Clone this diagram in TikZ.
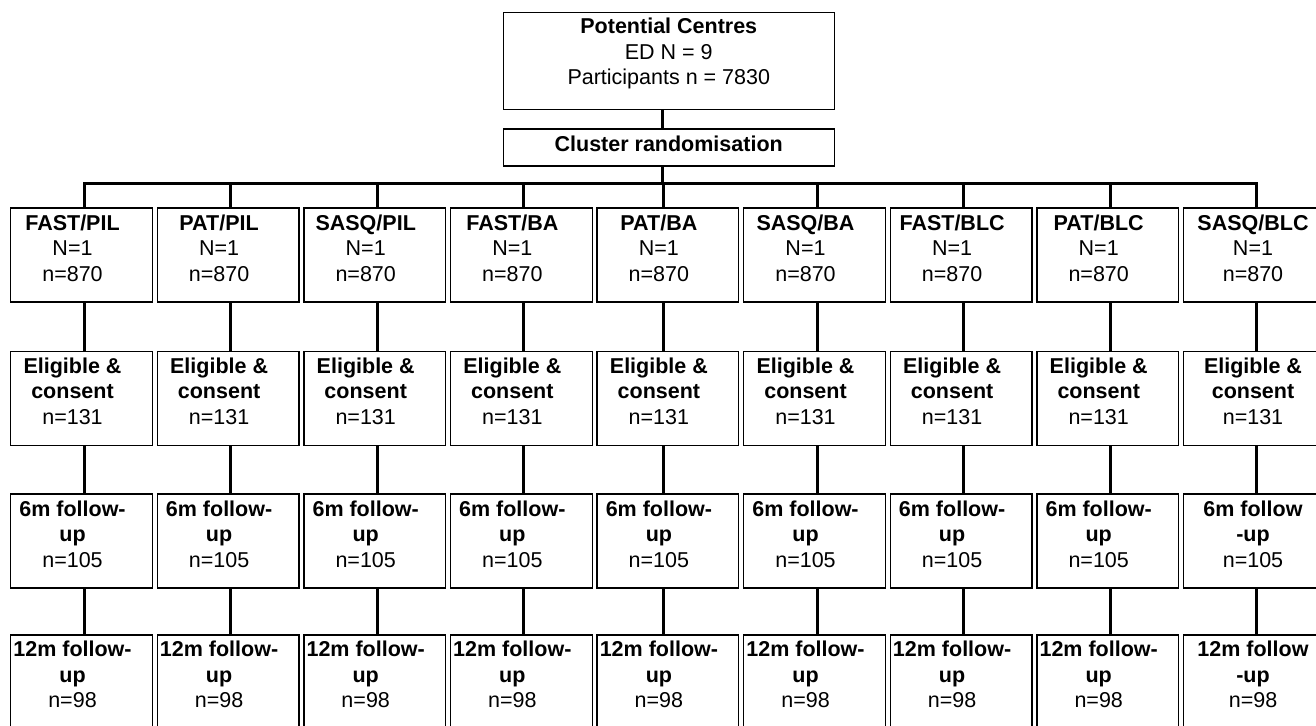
\documentclass[tikz,border=0pt]{standalone}
\usepackage{fontspec}
\setmainfont{Liberation Sans}
\usetikzlibrary{calc}
\begin{document}
\begin{tikzpicture}[x=1pt,y=-1pt,
  box/.style={draw, line width=1.3pt, minimum width=141.7pt, minimum height=94.1pt, inner sep=0pt, anchor=north west},
  txt/.style={anchor=north, inner sep=0pt, align=center, font=\fontsize{21.5}{25.5}\selectfont},
  link/.style={line width=3pt}]
\useasboundingbox (0,0) rectangle (1316,725);
% top boxes
\node[draw, line width=1.3pt, minimum width=331pt, minimum height=97pt, inner sep=0pt, anchor=north west] (top) at (502.7,11.7) {};
\node[txt] (toptxt) at (668.8,17.8) {\textbf{Potential Centres}\\ED N = 9\\Participants n = 7830};
\node[draw, line width=1.3pt, minimum width=331pt, minimum height=37.1pt, inner sep=0pt, anchor=north west] (clu) at (502.7,128.3) {};
\node[txt] (clutxt) at (668.7,135.5) {\textbf{Cluster randomisation}};
\coordinate (hc) at (662.7,183.3);
\draw[link] ([xshift=160pt]top.south west) -- ([xshift=160pt]clu.north west);
\draw[link] ([xshift=160pt]clu.south west) -- (hc);
% columns
\foreach \nm [count=\i] in {FAST/PIL,PAT/PIL,SASQ/PIL,FAST/BA,PAT/BA,SASQ/BA,FAST/BLC,PAT/BLC,SASQ/BLC}{
  \pgfmathsetmacro\L{10+146.6*(\i-1)}
  \pgfmathsetmacro\T{\i==9 ? 1253 : \L+62.5}
  \pgfmathsetmacro\C{\i==5 ? 663.3 : \L+74}
  \pgfmathsetmacro\dx{\C-\L}
  \node[box] (a\i) at (\L,207.3) {};
  \node[box] (b\i) at (\L,350.5) {};
  \node[box] (c\i) at (\L,493.3) {};
  \node[box] (d\i) at (\L,634.3) {};
  \node[txt] (ta\i) at (\T,214.5) {\textbf{\nm}\\N=1\\n=870};
  \node[txt] (tb\i) at (\T,357.3) {\textbf{Eligible \&}\\\textbf{consent}\\n=131};
  \ifnum\i=9
    \node[txt] (tc\i) at (\T,500.3) {\textbf{6m follow}\\\textbf{-up}\\n=105};
    \node[txt] (td\i) at (\T,641.2) {\textbf{12m follow}\\\textbf{-up}\\n=98};
  \else
    \node[txt] (tc\i) at (\T,500.3) {\textbf{6m follow-}\\\textbf{up}\\n=105};
    \node[txt] (td\i) at (\T,641.2) {\textbf{12m follow-}\\\textbf{up}\\n=98};
  \fi
  \coordinate (h\i) at (\C,183.3);
  \draw[link] (h\i) -- ([xshift=\dx pt]a\i.north west);
  \draw[link] ([xshift=\dx pt]a\i.south west) -- ([xshift=\dx pt]b\i.north west);
  \draw[link] ([xshift=\dx pt]b\i.south west) -- ([xshift=\dx pt]c\i.north west);
  \draw[link] ([xshift=\dx pt]c\i.south west) -- ([xshift=\dx pt]d\i.north west);
}
\draw[link, line cap=rect] (h1) -- (h9);
\end{tikzpicture}
\end{document}
